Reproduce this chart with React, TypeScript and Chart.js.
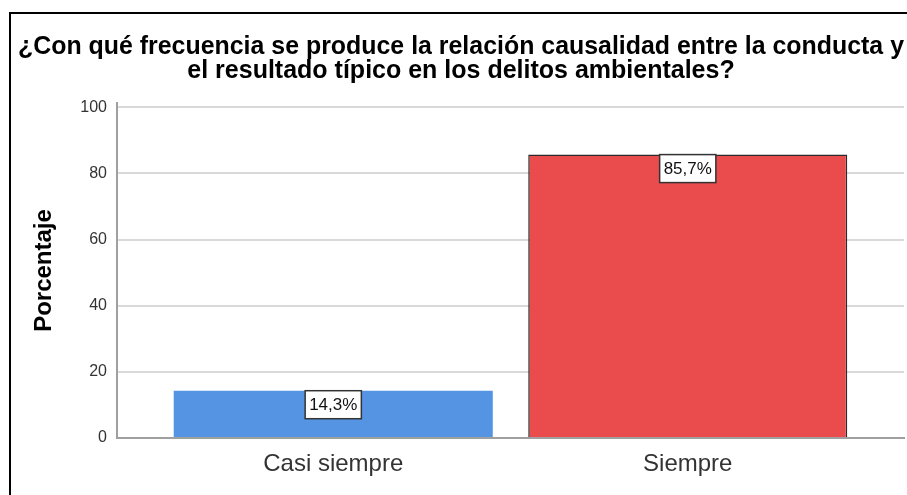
import React, { useEffect, useRef } from "react";
import { Chart, registerables } from "chart.js";

Chart.register(...registerables);

const titleLines = [
  "¿Con qué frecuencia se produce la relación causalidad entre la conducta y",
  "el resultado típico en los delitos ambientales?",
];
const categories = ["Casi siempre", "Siempre"];
const percentages = [14.3, 85.7];
const valueLabels = ["14,3%", "85,7%"];
const yTicks = [0, 20, 40, 60, 80, 100];
const barColors = ["#5594E2", "#EA4B4D"];
const barBorders = ["#5594E2", "#2b2b2b"];

const FONT = "'Liberation Sans', Arial, sans-serif";

const framePlugin = {
  id: "frame",
  beforeDraw(chart: any) {
    const ctx = chart.ctx;
    ctx.save();
    ctx.fillStyle = "#ffffff";
    ctx.fillRect(0, 0, chart.width, chart.height);
    ctx.strokeStyle = "#000000";
    ctx.lineWidth = 2;
    ctx.beginPath();
    ctx.moveTo(10, chart.height);
    ctx.lineTo(10, 13);
    ctx.lineTo(chart.width, 13);
    ctx.stroke();
    ctx.restore();
  },
};

const labelPlugin = {
  id: "valueBoxes",
  afterDatasetsDraw(chart: any) {
    const ctx = chart.ctx;
    const meta = chart.getDatasetMeta(0);
    ctx.save();
    ctx.font = `17px ${FONT}`;
    meta.data.forEach((el: any, i: number) => {
      const text = valueLabels[i];
      const w = ctx.measureText(text).width + 8;
      const h = 28;
      const x = el.x - w / 2;
      const y = el.y;
      ctx.fillStyle = "#ffffff";
      ctx.fillRect(x, y, w, h);
      ctx.strokeStyle = "#333333";
      ctx.lineWidth = 1.5;
      ctx.strokeRect(x, y, w, h);
      ctx.fillStyle = "#111111";
      ctx.textAlign = "center";
      ctx.textBaseline = "middle";
      ctx.fillText(text, el.x, y + h / 2 + 1);
    });
    ctx.restore();
  },
};

export default function App() {
  const ref = useRef<HTMLCanvasElement | null>(null);
  useEffect(() => {
    if (!ref.current) return;
    const chart = new Chart(ref.current, {
      type: "bar",
      data: {
        datasets: [
          {
            data: percentages.map((v, i) => ({ x: i, y: v })),
            backgroundColor: barColors,
            borderColor: barBorders,
            borderWidth: [0, 1.5],
            barPercentage: 0.9,
            categoryPercentage: 1,
          },
        ],
      },
      options: {
        animation: false,
        responsive: true,
        maintainAspectRatio: false,
        layout: { padding: { left: 18, right: 3, top: 0, bottom: 0 } },
        plugins: {
          legend: { display: false },
          tooltip: { enabled: false },
          title: {
            display: true,
            text: titleLines,
            color: "#000000",
            font: { family: FONT, size: 25, weight: "bold", lineHeight: "24px" as any },
            padding: { top: 35.3, bottom: 19.7 },
          },
        },
        scales: {
          x: {
            type: "linear",
            min: -0.61,
            max: 1.61,
            offset: false,
            afterBuildTicks: (s: any) => {
              s.ticks = categories.map((_, i) => ({ value: i }));
            },
            afterFit: (s: any) => {
              s.height = 57;
            },
            grid: { display: false, drawTicks: false },
            border: { color: "#a0a0a0", width: 2 },
            ticks: {
              color: "#333333",
              padding: 12,
              autoSkip: false,
              maxRotation: 0,
              font: { family: FONT, size: 24 },
              callback: (v: any) => categories[v as number] ?? "",
            },
          },
          y: {
            min: 0,
            max: 101.3,
            afterBuildTicks: (s: any) => {
              s.ticks = yTicks.map((v) => ({ value: v }));
            },
            afterFit: (s: any) => {
              s.width = 99;
            },
            grid: { color: "#d9d9d9", lineWidth: 2, drawTicks: false },
            border: { color: "#a0a0a0", width: 2 },
            ticks: {
              color: "#333333",
              padding: 10,
              font: { family: FONT, size: 16 },
            },
            title: {
              display: true,
              text: "Porcentaje",
              color: "#000000",
              font: { family: FONT, size: 24, weight: "bold" },
              padding: { top: 11.6, bottom: 0 },
            },
          },
        },
      },
      plugins: [framePlugin, labelPlugin],
    });
    return () => chart.destroy();
  }, []);
  return (
    <div style={{ position: "fixed", left: 0, top: 0, width: 907, height: 495 }}>
      <canvas ref={ref} />
    </div>
  );
}
